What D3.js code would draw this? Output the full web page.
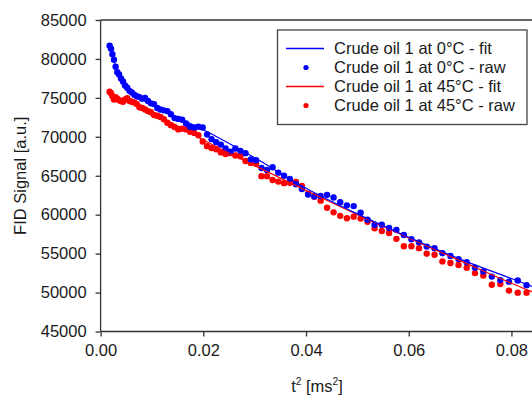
<!DOCTYPE html>
<html>
<head>
<meta charset="utf-8">
<script src="https://cdn.jsdelivr.net/npm/d3@7/dist/d3.min.js"></script>
<style>
  html, body { margin: 0; padding: 0; background: #ffffff; }
  svg { display: block; }
  text { font-family: "Liberation Sans", Arial, sans-serif; fill: #1a1a1a; }
</style>
</head>
<body>
<svg id="chart" width="532" height="396"></svg>
<script>
// ---------------- data ----------------
const t2 = [0.00176,0.00203,0.00230,0.00260,0.00292,0.00325,0.00360,0.00397,0.00436,0.00476,
            0.00518,0.00563,0.00608,0.00656,0.00706,0.00757,0.00810,0.00865,0.00922,0.00980,
            0.01040,0.01103,0.01166,0.01232,0.01300,0.01369,0.01440,0.01513,0.01588,0.01664,
            0.01742,0.01823,0.01904,0.01988,0.02074,0.02161,0.02250,0.02341,0.02434,0.02528,
            0.02624,0.02723,0.02822,0.02924,0.03028,0.03133,0.03240,0.03349,0.03460,0.03572,
            0.03686,0.03803,0.03920,0.04040,0.04162,0.04285,0.04410,0.04537,0.04666,0.04796,
            0.04928,0.05063,0.05198,0.05336,0.05476,0.05617,0.05760,0.05905,0.06052,0.06200,
            0.06350,0.06503,0.06656,0.06812,0.06970,0.07129,0.07290,0.07453,0.07618,0.07784,
            0.07952,0.08123,0.08294];

const raw0C = [81700,81300,80600,79900,79000,78300,78000,77500,77100,76600,
               76300,75900,75700,75400,75200,75100,74900,75000,74600,74300,
               74200,73700,73500,73400,73300,72900,72400,72300,72200,71700,
               71300,71200,71300,71200,70300,69700,69300,69000,68500,68100,
               68500,68200,67900,67100,67000,66000,65750,66100,65400,65000,
               64600,63900,63300,62600,62350,62400,62550,62200,61600,61200,
               61100,60250,59350,58700,58700,58300,58050,57400,56850,56450,
               55900,55700,55050,54700,54300,53900,53200,52700,52050,51600,
               51400,51550,50950];

const raw45C = [75800,75600,75200,74800,75100,74900,74700,74600,74500,74800,
                74950,74600,74500,74400,74200,73800,73700,73500,73300,73150,
                72800,72700,72550,72250,71800,71500,71250,70950,71050,70950,
                70650,70500,70200,69400,68800,68550,68400,68000,67800,67900,
                67600,67500,66900,66650,66550,64950,64950,64450,64250,64050,
                64100,64200,63700,62700,62300,61800,60900,60300,59850,59550,
                59750,59500,59100,58250,57900,57650,56900,55950,55950,55700,
                55000,54850,54000,53800,53550,53200,52500,52200,51000,51100,
                50250,49990,49990];

const fitT2 = [0.0017,0.0025,0.0035,0.005,0.0075,0.010,0.0125,0.015,0.020,0.030,0.040,0.050,0.060,0.070,0.080,0.090];
const fit0C = [81650,80000,78000,76400,75000,74100,73300,72500,70900,67300,63400,60100,57100,54300,51800,49300];
const fit45C = [75700,75350,75000,74600,73850,73100,72250,71400,69600,66300,63100,60000,57000,54100,51200,48500];

const xTicks = [0.00,0.02,0.04,0.06,0.08];
const yTicks = [45000,50000,55000,60000,65000,70000,75000,80000,85000];

const legendLabels = ["Crude oil 1 at 0°C - fit","Crude oil 1 at 0°C - raw",
                      "Crude oil 1 at 45°C - fit","Crude oil 1 at 45°C - raw"];

// ---------------- layout ----------------
const svg = d3.select("#chart");
const pL = 100.6, pR = 533, pT = 20, pB = 331.5;
const x = d3.scaleLinear().domain([0, 0.0842]).range([pL, pR]);
const y = d3.scaleLinear().domain([45000, 85000]).range([pB, pT]);
const FONT = 16.5;
const BLUE = "#0000ff", RED = "#ff0000", AX = "#333333";

svg.append("defs").append("clipPath").attr("id","clip")
  .append("rect").attr("x", pL).attr("y", pT).attr("width", pR-pL).attr("height", pB-pT);

// frame (top & right)
svg.append("path")
  .attr("d", `M${pL},${pT}H${pR}V${pB}`)
  .attr("fill","none").attr("stroke",AX).attr("stroke-width",1.3);

// axes
const xAxis = d3.axisBottom(x).tickValues(xTicks).tickFormat(d3.format(".2f")).tickSizeOuter(0).tickSize(5).tickPadding(8);
const gx = svg.append("g").attr("transform",`translate(0,${pB})`).call(xAxis);
const yAxis = d3.axisLeft(y).tickValues(yTicks).tickFormat(d3.format("d")).tickSizeOuter(0).tickSize(5).tickPadding(9);
const gy = svg.append("g").attr("transform",`translate(${pL},0)`).call(yAxis);
[gx, gy].forEach(g => {
  g.select(".domain").attr("stroke",AX).attr("stroke-width",1.3);
  g.selectAll(".tick line").attr("stroke",AX).attr("stroke-width",1.3);
  g.selectAll(".tick text").attr("font-size",FONT).attr("font-family","Liberation Sans, Arial, sans-serif").attr("fill","#1a1a1a");
});
gx.select(".domain").attr("d", `M${pL},0H${pR}`);
gy.select(".domain").attr("d", `M0,${pB}V${pT}`);

// axis titles
const xt = svg.append("text").attr("x", 317).attr("y", 392).attr("text-anchor","middle").attr("font-size",FONT);
xt.append("tspan").text("t");
xt.append("tspan").attr("font-size",FONT*0.62).attr("dy",-7).text("2");
xt.append("tspan").attr("dy",7).text(" [ms");
xt.append("tspan").attr("font-size",FONT*0.62).attr("dy",-7).text("2");
xt.append("tspan").attr("dy",7).text("]");

svg.append("text").attr("transform",`translate(26,${(pT+pB)/2}) rotate(-90)`)
  .attr("text-anchor","middle").attr("font-size",FONT).text("FID Signal [a.u.]");

// plot contents
const plot = svg.append("g").attr("clip-path","url(#clip)");
const line = d3.line().x((d,i)=>x(fitT2[i])).y(d=>y(d)).curve(d3.curveMonotoneX);

const rawSeries = [{v: raw45C, c: RED}, {v: raw0C, c: BLUE}];
rawSeries.forEach(s => {
  plot.append("g").selectAll("circle").data(s.v).join("circle")
    .attr("cx",(d,i)=>x(t2[i])).attr("cy",d=>y(d)).attr("r",3.2).attr("fill",s.c);
});
plot.append("path").datum(fit45C).attr("d",line).attr("fill","none").attr("stroke",RED).attr("stroke-width",1.2);
plot.append("path").datum(fit0C).attr("d",line).attr("fill","none").attr("stroke",BLUE).attr("stroke-width",1.2);

// legend
const lg = svg.append("g");
lg.append("rect").attr("x",277.5).attr("y",30).attr("width",249.5).attr("height",94.5)
  .attr("fill","#ffffff").attr("stroke","#444").attr("stroke-width",1.3);
const rowY = [48.5, 67.5, 86.5, 105.5];
const legColors = [BLUE, BLUE, RED, RED];
legendLabels.forEach((lab,i) => {
  if (i % 2 === 0) {
    lg.append("line").attr("x1",286).attr("x2",324).attr("y1",rowY[i]).attr("y2",rowY[i])
      .attr("stroke",legColors[i]).attr("stroke-width",1.3);
  } else {
    lg.append("circle").attr("cx",306).attr("cy",rowY[i]).attr("r",2.6).attr("fill",legColors[i]);
  }
  lg.append("text").attr("x",334).attr("y",rowY[i]).attr("dy","0.35em").attr("font-size",FONT).text(lab);
});
</script>
</body>
</html>
